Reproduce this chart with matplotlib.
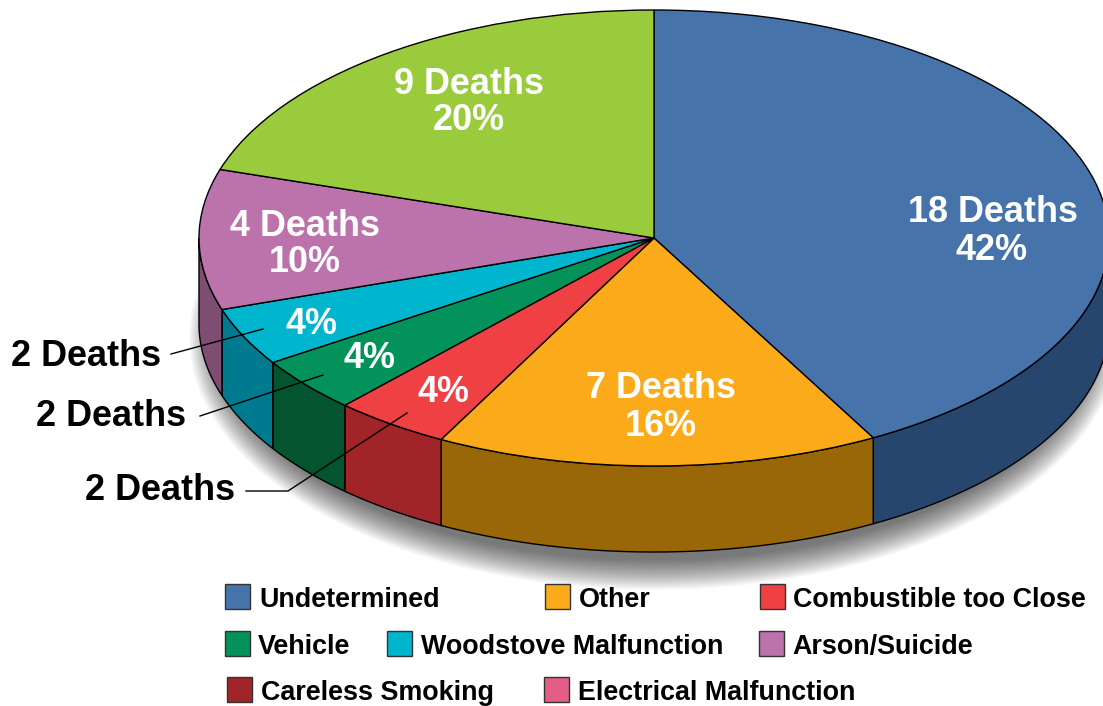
import numpy as np
import matplotlib
matplotlib.use("Agg")
import matplotlib.pyplot as plt
from matplotlib.patches import Ellipse, Rectangle

plt.rcParams['font.family'] = ['Liberation Sans', 'DejaVu Sans']

# ---- data ----
categories = ["Undetermined", "Other", "Combustible too Close", "Vehicle",
              "Woodstove Malfunction", "Arson/Suicide", "Unknown"]
slice_sizes = [42.0, 15.75, 4.14, 3.92, 4.11, 9.94, 20.14]   # as drawn in the picture
percent_labels = [42, 16, 4, 4, 4, 10, 20]
deaths = [18, 7, 2, 2, 2, 4, 9]
top_colors = ["#4573AA", "#FBAA1A", "#EF4044", "#03925A", "#00B5CE", "#BC73AC", "#9ACB3C"]
side_colors = ["#26466D", "#996608", "#A12528", "#03542F", "#007A8E", "#7F4C72", "#5F7F25"]
legend_names = ["Undetermined", "Other", "Combustible too Close", "Vehicle",
                "Woodstove Malfunction", "Arson/Suicide", "Careless Smoking",
                "Electrical Malfunction"]
legend_colors = ["#4573AA", "#FBAA1A", "#EF4044", "#03925A", "#00B5CE", "#BC73AC",
                 "#A12528", "#E25E87"]

# ---- layout (pixels) ----
W, H = 1103, 706
CX, CY, RX, RY, DEPTH = 654, 238, 455, 228, 86
BIG = 25.9
LEG = 19.4

fig = plt.figure(figsize=(W / 100, H / 100), dpi=100, facecolor="white")
ax = fig.add_axes([(CX - RX) / W, (H - CY - RY) / H, 2 * RX / W, 2 * RY / H])

# top face
wedges, _ = ax.pie(slice_sizes, colors=top_colors, startangle=90, counterclock=False,
                   radius=1, normalize=True,
                   wedgeprops=dict(edgecolor="black", linewidth=1.0, zorder=5))
ax.set_aspect("auto")
ax.set_xlim(-1, 1)
ax.set_ylim(-1, 1)
ax.set_axis_off()
for w in wedges:
    w.set_clip_on(False)

depth = DEPTH / RY

# soft shadow
n = 28
for i in range(n):
    grow = 24 - i * 30 / (n - 1)
    ax.add_patch(Ellipse((0, -depth - 14 / RY), 2 * (RX + grow - 14) / RX, 2 * (RY + grow) / RY,
                         facecolor="black", edgecolor="none", alpha=0.024,
                         zorder=1, clip_on=False))

# side walls from the slice sizes
edges = np.concatenate([[0], np.cumsum(slice_sizes)]) / np.sum(slice_sizes) * 360.0
for a0, a1, col in zip(edges[:-1], edges[1:], side_colors):
    lo, hi = max(a0, 90), min(a1, 270)
    if lo >= hi:
        continue
    t = np.radians(np.linspace(lo, hi, 80))
    x, y = np.sin(t), np.cos(t)
    px = np.concatenate([x, x[::-1]])
    py = np.concatenate([y, y[::-1] - depth])
    ax.fill(px, py, facecolor=col, edgecolor="black", linewidth=1.0, zorder=3, clip_on=False)

# overlay in pixel coordinates
ov = fig.add_axes([0, 0, 1, 1], facecolor="none")
ov.set_xlim(0, W)
ov.set_ylim(H, 0)
ov.set_axis_off()

def deaths_label(n):
    return f"{n} Deaths"

# leaders
ov.plot([171, 263], [354, 329], color="black", lw=1.0)
ov.plot([200, 323], [416, 375], color="black", lw=1.0)
ov.plot([246, 288, 407], [491, 491, 413], color="black", lw=1.0)

# labels inside
big_pos = {0: (993, 209, 992, 247), 1: (661, 384, 661, 422), 5: (305, 223, 305, 259), 6: (469, 80, 469, 117)}
for i, (x1, y1, x2, y2) in big_pos.items():
    ov.text(x1, y1, deaths_label(deaths[i]), color="white", fontsize=BIG, fontweight="bold",
            ha="center", va="center_baseline")
    ov.text(x2, y2, f"{percent_labels[i]}%", color="white", fontsize=BIG, fontweight="bold",
            ha="center", va="center_baseline")
small_pos = {2: (444, 389, 235, 487), 3: (370, 355, 186, 413), 4: (311, 321, 161, 353)}
for i, (x1, y1, x2, y2) in small_pos.items():
    ov.text(x1, y1, f"{percent_labels[i]}%", color="white", fontsize=BIG, fontweight="bold",
            ha="center", va="center_baseline")
    ov.text(x2, y2, deaths_label(deaths[i]), color="black", fontsize=BIG, fontweight="bold",
            ha="right", va="center_baseline")

# legend
box_x = [225, 545, 760, 225, 387, 759, 227, 544]
box_y = [584, 584, 584, 631, 631, 631, 677, 677]
txt_x = [259, 579, 793, 258, 421, 792, 261, 578]
for name, col, bx, by, tx in zip(legend_names, legend_colors, box_x, box_y, txt_x):
    ov.add_patch(Rectangle((bx, by), 25, 25, facecolor=col, edgecolor="#333333", linewidth=1.0))
    ov.text(tx, by + 13, name, color="black", fontsize=LEG, fontweight="bold",
            ha="left", va="center_baseline")

fig.savefig("out.png", dpi=100, facecolor="white")
